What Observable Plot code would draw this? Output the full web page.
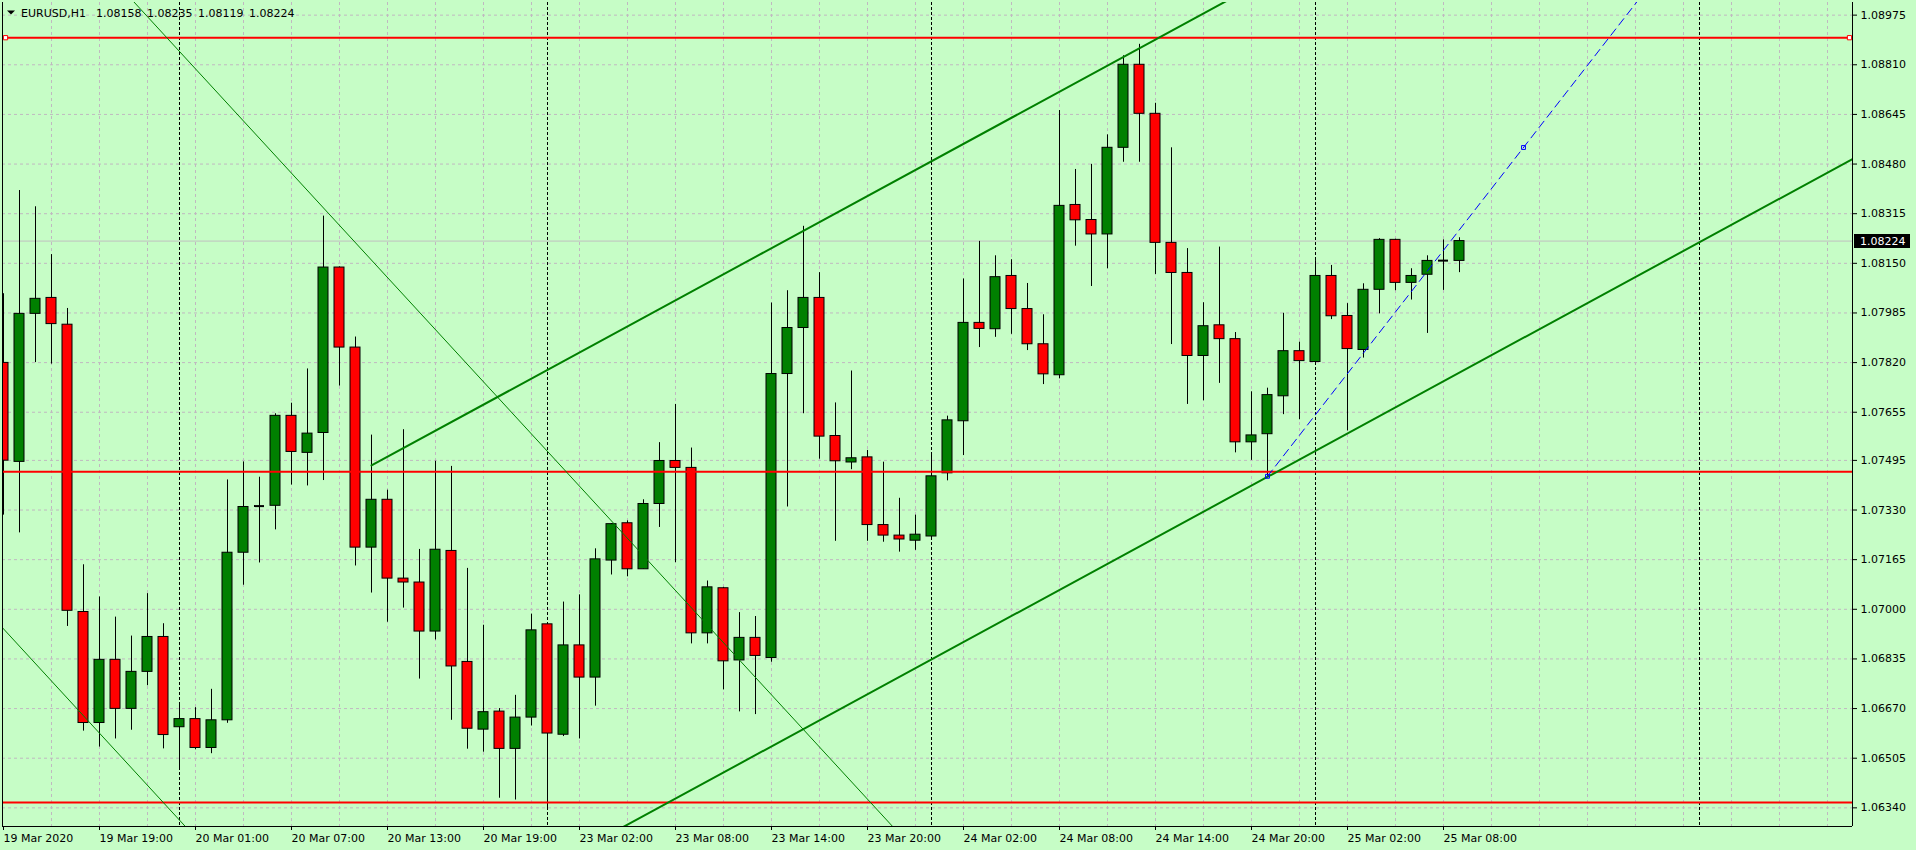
<!DOCTYPE html>
<html><head><meta charset="utf-8">
<script src="https://cdn.jsdelivr.net/npm/d3@7"></script>
<script src="https://cdn.jsdelivr.net/npm/@observablehq/plot@0.6"></script>
<style>
html,body{margin:0;padding:0;background:#c6fdc6;}
#chart{width:1916px;height:850px;overflow:hidden;}
</style></head><body><div id="chart"></div>
<script>
// ---- OHLC (EURUSD H1), bar 0 = 19 Mar 13:00 ----
const open = [1.07819,1.07490,1.07982,1.08035,1.07946,1.06991,1.06622,1.06832,1.06669,1.06792,
1.06908,1.06608,1.06635,1.06539,1.06631,1.07188,1.07343,1.07344,1.07643,1.07520,
1.07586,1.08136,1.07870,1.07205,1.07364,1.07102,1.07089,1.06926,1.07194,1.06825,
1.06600,1.06660,1.06536,1.06640,1.06950,1.06583,1.06880,1.06773,1.07162,1.07286,
1.07133,1.07350,1.07493,1.07470,1.06920,1.07070,1.06830,1.06905,1.06838,1.07782,
1.07935,1.08035,1.07576,1.07488,1.07505,1.07280,1.07245,1.07228,1.07242,1.07452,
1.07625,1.07952,1.07931,1.08108,1.07998,1.07881,1.07778,1.08344,1.08294,1.08246,
1.08534,1.08810,1.08647,1.08218,1.08118,1.07842,1.07944,1.07898,1.07555,1.07582,
1.07708,1.07858,1.07822,1.08108,1.07975,1.07862,1.08062,1.08228,1.08085,1.08112,
1.08159,1.08158];
const high = [1.08049,1.08392,1.08338,1.08179,1.08000,1.07148,1.07041,1.06974,1.06911,1.07052,
1.06952,1.06688,1.06673,1.06734,1.07430,1.07490,1.07439,1.07650,1.07685,1.07799,
1.08307,1.08138,1.07905,1.07579,1.07396,1.07597,1.07199,1.07492,1.07475,1.07136,
1.06947,1.06670,1.06714,1.06984,1.06952,1.07024,1.07048,1.07201,1.07285,1.07294,
1.07364,1.07554,1.07681,1.07536,1.07094,1.07073,1.06989,1.06976,1.08018,1.08059,
1.08273,1.08119,1.07686,1.07792,1.07528,1.07489,1.07369,1.07313,1.07518,1.07642,
1.08098,1.08223,1.08175,1.08162,1.08083,1.07979,1.08658,1.08462,1.08479,1.08577,
1.08840,1.08878,1.08682,1.08534,1.08199,1.08019,1.08204,1.07920,1.07723,1.07735,
1.07984,1.07888,1.08159,1.08143,1.08016,1.08082,1.08232,1.08230,1.08132,1.08175,
1.08228,1.08235];
const low = [1.07313,1.07254,1.07820,1.07815,1.06943,1.06595,1.06542,1.06569,1.06598,1.06746,
1.06536,1.06470,1.06533,1.06520,1.06621,1.07080,1.07154,1.07264,1.07413,1.07410,
1.07428,1.07742,1.07144,1.07054,1.06957,1.07004,1.06768,1.06898,1.06631,1.06535,
1.06525,1.06372,1.06366,1.06612,1.06340,1.06577,1.06569,1.06678,1.07114,1.07108,
1.07133,1.07272,1.07155,1.06885,1.06885,1.06732,1.06659,1.06650,1.06824,1.07340,
1.07650,1.07499,1.07226,1.07464,1.07226,1.07223,1.07190,1.07196,1.07232,1.07427,
1.07511,1.07870,1.07904,1.07914,1.07860,1.07747,1.07766,1.08207,1.08073,1.08132,
1.08486,1.08486,1.08113,1.07880,1.07681,1.07693,1.07751,1.07520,1.07495,1.07442,
1.07647,1.07630,1.07822,1.07963,1.07593,1.07835,1.07982,1.08059,1.08028,1.07917,
1.08060,1.08119];
const close = [1.07494,1.07982,1.08032,1.07948,1.06995,1.06622,1.06832,1.06669,1.06792,1.06908,
1.06582,1.06635,1.06539,1.06631,1.07188,1.07340,1.07343,1.07643,1.07523,1.07584,
1.08136,1.07870,1.07205,1.07364,1.07102,1.07089,1.06926,1.07198,1.06810,1.06603,
1.06658,1.06536,1.06640,1.06930,1.06587,1.06880,1.06773,1.07166,1.07283,1.07133,
1.07350,1.07493,1.07470,1.06920,1.07073,1.06827,1.06905,1.06845,1.07782,1.07935,
1.08035,1.07574,1.07492,1.07502,1.07280,1.07245,1.07232,1.07248,1.07442,1.07628,
1.07952,1.07932,1.08104,1.07998,1.07881,1.07781,1.08341,1.08293,1.08246,1.08534,
1.08810,1.08647,1.08218,1.08118,1.07842,1.07941,1.07898,1.07555,1.07578,1.07712,
1.07858,1.07825,1.08108,1.07974,1.07865,1.08062,1.08228,1.08085,1.08108,1.08158,
1.08159,1.08224];

// ---- axes ----
const yTickLabels = ["1.08975","1.08810","1.08645","1.08480","1.08315","1.08150","1.07985","1.07820",
"1.07655","1.07495","1.07330","1.07165","1.07000","1.06835","1.06670","1.06505","1.06340"];
const xTickBars = [0,6,12,18,24,30,36,42,48,54,60,66,72,78,84,90];
const xTickLabels = ["19 Mar 2020","19 Mar 19:00","20 Mar 01:00","20 Mar 07:00","20 Mar 13:00","20 Mar 19:00",
"23 Mar 02:00","23 Mar 08:00","23 Mar 14:00","23 Mar 20:00","24 Mar 02:00","24 Mar 08:00","24 Mar 14:00",
"24 Mar 20:00","25 Mar 02:00","25 Mar 08:00"];
const daySeparatorBars = [11,34,58,82,106];
const gridBars = [3,6,9,12,15,18,21,24,27,30,33,36,39,42,45,48,51,54,57,60,63,66,69,72,75,78,81,84,87,90,93,96,99,102,105,108,111,114];

// ---- objects ----
const horizontalLevels = [1.08900, 1.07457, 1.06358];
const bidPrice = 1.08224;
const titleSymbol = "EURUSD,H1";
const titleValues = ["1.08158", "1.08235", "1.08119", "1.08224"];
// thick equidistant channel: two points on the upper line, one on the lower
const channelBars = [23, 61];
const channelPrices = [1.07478, 1.08576];
const channelLowerBar = 79, channelLowerPrice = 1.07440;
// thin channel (downward)
const thinBars = [20, 45];
const thinPrices = [1.08334, 1.06889];
const thinLowerBar = 0, thinLowerPrice = 1.06935;
// blue dashed trend ray
const rayBars = [79, 95];
const rayPrices = [1.07442, 1.08535];

// ---- layout ----
const W = 1916, H = 850, mL = 2, mR = 64, mT = 2, mB = 24;
const barPx = 16, firstBarX = 3;
const xDomain = [(mL - firstBarX) / barPx, (W - mR - firstBarX) / barPx];
const yDomain = [1.06278, 1.09017];

const candles = open.map((o, i) => ({i, o, h: high[i], l: low[i], c: close[i]}));
const halfBody = 5 / barPx;

function lineThrough(b1, p1, b2, p2, from, to, shift = 0) {
  const s = (p2 - p1) / (b2 - b1);
  return [from, to].map(b => ({b, p: p1 + (b - b1) * s + shift}));
}
const chSlope = (channelPrices[1] - channelPrices[0]) / (channelBars[1] - channelBars[0]);
const chShift = channelLowerPrice - (channelPrices[0] + (channelLowerBar - channelBars[0]) * chSlope);
const chUpper = lineThrough(channelBars[0], channelPrices[0], channelBars[1], channelPrices[1], channelBars[0], xDomain[1]);
const chLower = lineThrough(channelBars[0], channelPrices[0], channelBars[1], channelPrices[1], channelBars[0], xDomain[1], chShift);
const thSlope = (thinPrices[1] - thinPrices[0]) / (thinBars[1] - thinBars[0]);
const thShift = thinLowerPrice - (thinPrices[0] + (thinLowerBar - thinBars[0]) * thSlope);
const thUpper = lineThrough(thinBars[0], thinPrices[0], thinBars[1], thinPrices[1], xDomain[0], xDomain[1]);
const thLower = lineThrough(thinBars[0], thinPrices[0], thinBars[1], thinPrices[1], xDomain[0], xDomain[1], thShift);
const ray = lineThrough(rayBars[0], rayPrices[0], rayBars[1], rayPrices[1], rayBars[0], xDomain[1]);
const rayAnchors = rayBars.map((b, k) => ({b, p: rayPrices[k]}));

const FONT = "DejaVu Sans";

function priceLabel(index, scales, values, dimensions) {
  const y = Math.round(scales.y(bidPrice));
  const x0 = dimensions.width - dimensions.marginRight;
  const g = d3.create("svg:g");
  g.append("rect").attr("x", x0 + 2).attr("y", y - 7).attr("width", 56).attr("height", 14).attr("fill", "black");
  g.append("text").attr("x", x0 + 8).attr("y", y).attr("dy", "0.36em").attr("text-anchor", "start")
    .attr("fill", "white").attr("font-family", FONT).attr("font-size", 11).text(bidPrice.toFixed(5));
  return g.node();
}

function title(index, scales, values, dimensions) {
  const g = d3.create("svg:g").attr("font-family", FONT).attr("font-size", 11).attr("fill", "black");
  g.append("path").attr("d", "M7,10.5L15,10.5L11,14.5Z").attr("fill", "black");
  const t = g.append("text").attr("x", 21).attr("y", 17).attr("text-anchor", "start")
    .attr("xml:space", "preserve").style("white-space", "pre");
  t.append("tspan").text(titleSymbol);
  titleValues.forEach((v, k) => t.append("tspan").attr("dx", k === 0 ? 10 : 5.5).text(v));
  return g.node();
}

const chart = Plot.plot({
  width: W, height: H,
  marginLeft: mL, marginRight: mR, marginTop: mT, marginBottom: mB,
  style: {background: "#c6fdc6", fontFamily: FONT, fontSize: "11px", color: "black", overflow: "visible"},
  x: {type: "linear", domain: xDomain, axis: null},
  y: {type: "linear", domain: yDomain, axis: null},
  marks: [
    // grid
    Plot.ruleY(yTickLabels.map(Number), {stroke: "#c0b8c0", strokeDasharray: "3,3"}),
    Plot.ruleX(gridBars, {stroke: "#c0b8c0", strokeDasharray: "3,3"}),
    // bid line
    Plot.ruleY([bidPrice], {stroke: "#c0c0c0"}),
    // day separators
    Plot.ruleX(daySeparatorBars, {stroke: "black", strokeDasharray: "3,2"}),
    // candles
    Plot.ruleX(candles, {x: "i", y1: "l", y2: "h", stroke: "black", clip: true}),
    Plot.rect(candles.filter(d => d.c > d.o), {x1: d => d.i - halfBody, x2: d => d.i + halfBody, y1: "o", y2: "c", fill: "#008000", stroke: "black", clip: true}),
    Plot.rect(candles.filter(d => d.c < d.o), {x1: d => d.i - halfBody, x2: d => d.i + halfBody, y1: "o", y2: "c", fill: "#ff0000", stroke: "black", clip: true}),
    Plot.ruleY(candles.filter(d => d.c === d.o), {x1: d => d.i - halfBody, x2: d => d.i + halfBody, y: "o", stroke: "black", strokeWidth: 2, clip: true}),
    // horizontal levels
    Plot.ruleY(horizontalLevels, {stroke: "#ff0000", strokeWidth: 2}),
    Plot.dot([horizontalLevels[0]], {y: d => d, frameAnchor: "left", dx: 3, symbol: "square", r: 2.4, stroke: "#ff0000", fill: "white", strokeWidth: 1}),
    Plot.dot([horizontalLevels[0]], {y: d => d, frameAnchor: "right", dx: -3, symbol: "square", r: 2.4, stroke: "#ff0000", fill: "white", strokeWidth: 1}),
    // thin channel
    Plot.line(thUpper, {x: "b", y: "p", stroke: "#008000", strokeWidth: 1, clip: true}),
    Plot.line(thLower, {x: "b", y: "p", stroke: "#008000", strokeWidth: 1, clip: true}),
    // thick channel
    Plot.line(chUpper, {x: "b", y: "p", stroke: "#008000", strokeWidth: 2, clip: true}),
    Plot.line(chLower, {x: "b", y: "p", stroke: "#008000", strokeWidth: 2, clip: true}),
    // blue dashed ray
    Plot.line(ray, {x: "b", y: "p", stroke: "#0000ff", strokeWidth: 1, strokeDasharray: "8,5", clip: true}),
    Plot.dot(rayAnchors, {x: "b", y: "p", symbol: "square", r: 2.2, stroke: "#0000ff", fill: "none", strokeWidth: 1}),
    // frame
    Plot.ruleX([xDomain[0], xDomain[1]], {stroke: "black"}),
    Plot.ruleY([yDomain[0]], {stroke: "black"}),
    // axes
    Plot.axisY(yTickLabels.map(Number), {anchor: "right", tickSize: 4, tickPadding: 4, fontSize: 11,
      tickFormat: d => yTickLabels[yTickLabels.map(Number).indexOf(d)], label: null}),
    Plot.axisX(xTickBars, {anchor: "bottom", tickSize: 4, tickPadding: 4, fontSize: 11, textAnchor: "start",
      tickFormat: d => xTickLabels[xTickBars.indexOf(d)], label: null}),
    // title + price label
    title,
    priceLabel
  ]
});
document.getElementById("chart").appendChild(chart);
</script>
</body></html>
